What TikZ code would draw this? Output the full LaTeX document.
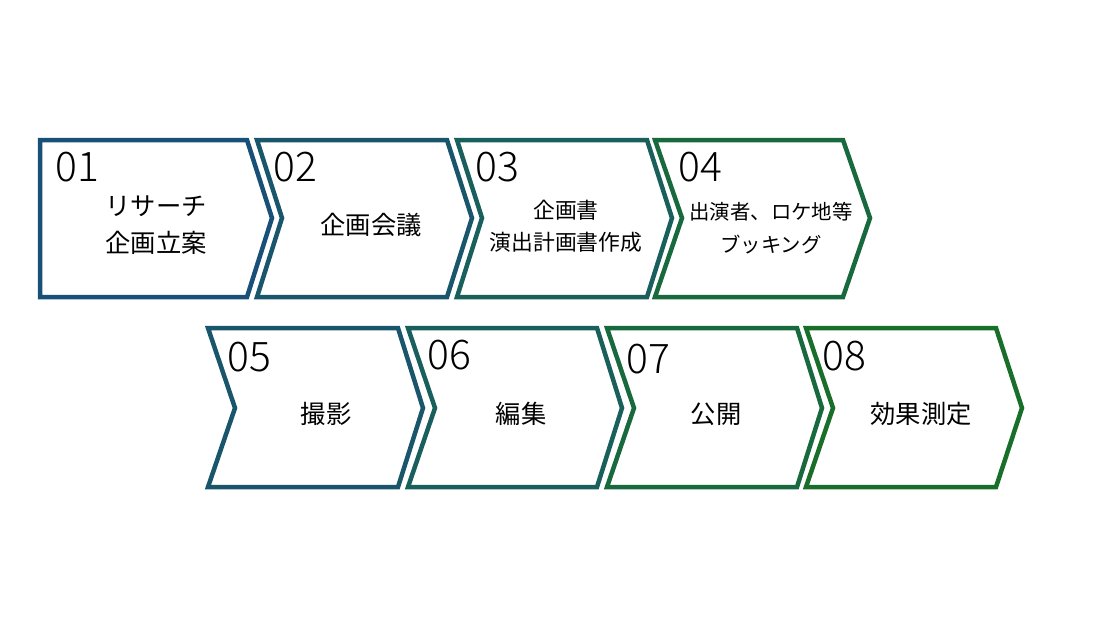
\documentclass[tikz,border=0pt]{standalone}
\usepackage{fontspec}
\setmainfont{Noto Sans CJK JP}
\newfontfamily\numfont{Noto Sans CJK JP Light}
\definecolor{stepA}{RGB}{25,80,120}
\definecolor{stepB}{RGB}{25,86,108}
\definecolor{stepC}{RGB}{25,95,92}
\definecolor{stepD}{RGB}{25,105,62}
\definecolor{stepE}{RGB}{25,110,42}
\tikzset{
  arrowbox/.style={line width=3.2pt, line join=miter, fill=white},
  stepnum/.style={anchor=base west, inner sep=0pt, font=\numfont\fontsize{29}{29}\selectfont},
  steptext/.style={align=center, inner sep=0pt, font=\fontsize{18}{26}\selectfont}
}
\begin{document}
\begin{tikzpicture}[x=0.025cm, y=-0.025cm]
  \useasboundingbox (0,0) rectangle (1093,640);
  \begin{scope}
    \draw[arrowbox, draw=stepA] (40,140) -- (247,140) -- (272,218) -- (247,297) -- (40,297) -- cycle;
    \draw[arrowbox, draw=stepB] (257,140) -- (447,140) -- (472,218) -- (447,297) -- (257,297) -- (282,218) -- cycle;
    \draw[arrowbox, draw=stepC] (457,140) -- (647,140) -- (672,218) -- (647,297) -- (457,297) -- (482,218) -- cycle;
    \draw[arrowbox, draw=stepD] (655,140) -- (843,140) -- (870,218) -- (843,297) -- (655,297) -- (682,218) -- cycle;
    \node[stepnum] (n01) at (55,181) {01};
    \node[stepnum] (n02) at (273,181) {02};
    \node[stepnum] (n03) at (475,181) {03};
    \node[stepnum] (n04) at (678,181) {04};
    \node[steptext] (research) at (156,225) {リサーチ\\企画立案};
    \node[steptext] (meeting) at (371,225) {企画会議};
    \node[steptext, font=\fontsize{15.5}{23}\selectfont] (planning) at (566,226) {企画書\\演出計画書作成};
    \node[steptext, font=\fontsize{14.5}{23}\selectfont] (booking) at (771,228) {出演者、ロケ地等\\ブッキング};
  \end{scope}
  \begin{scope}
    \draw[arrowbox, draw=stepB] (208,328) -- (398,328) -- (423,408) -- (398,487) -- (208,487) -- (235,408) -- cycle;
    \draw[arrowbox, draw=stepC] (408,328) -- (597,328) -- (622,408) -- (597,487) -- (408,487) -- (435,408) -- cycle;
    \draw[arrowbox, draw=stepD] (607,328) -- (797,328) -- (822,408) -- (797,487) -- (607,487) -- (634,408) -- cycle;
    \draw[arrowbox, draw=stepE] (806,328) -- (996,328) -- (1022,408) -- (996,487) -- (806,487) -- (833,408) -- cycle;
    \node[stepnum] (n05) at (227,371) {05};
    \node[stepnum] (n06) at (427,369) {06};
    \node[stepnum] (n07) at (626,373) {07};
    \node[stepnum] (n08) at (822,370) {08};
    \node[steptext] (shooting) at (326,414) {撮影};
    \node[steptext] (editing) at (521,414) {編集};
    \node[steptext] (release) at (716,414) {公開};
    \node[steptext] (measure) at (921,414) {効果測定};
  \end{scope}
\end{tikzpicture}
\end{document}
